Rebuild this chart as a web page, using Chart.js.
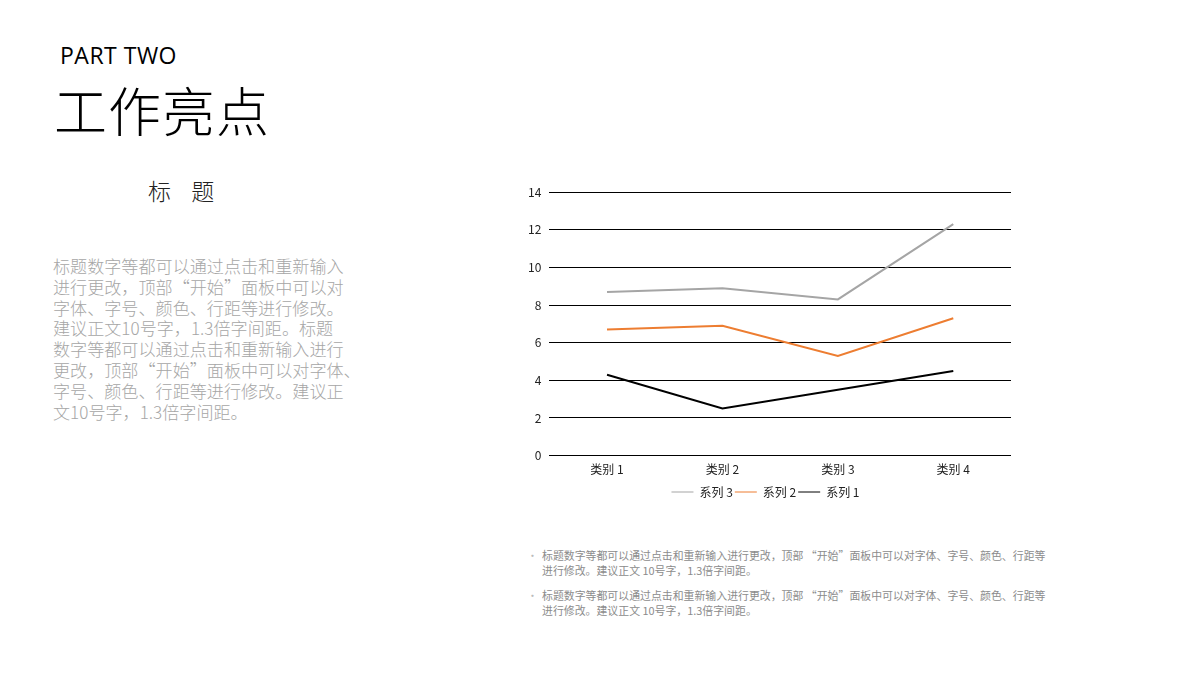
<!DOCTYPE html>
<html>
<head>
<meta charset="utf-8">
<script src="https://cdn.jsdelivr.net/npm/chart.js@4"></script>
<style>
  body { margin: 0; width: 1200px; height: 680px; background: #fff; position: relative; overflow: hidden; font-family: "Noto Sans CJK SC", sans-serif; }
  .part { position: absolute; left: 60px; top: 39px; font: 23px "Open Sans", sans-serif; color: #000; letter-spacing: 0.5px; }
  .title { position: absolute; left: 54px; top: 71px; font: 300 53px "Noto Sans CJK SC"; color: #000; letter-spacing: 1px; }
  .sub { position: absolute; left: 148px; top: 173px; font: 300 23px "Noto Sans CJK SC"; color: #222; }
  .para { position: absolute; left: 53px; top: 256px; font: 300 17.1px/20.8px "Noto Sans CJK SC"; color: #a6a6a6; white-space: nowrap; }
  .notes { position: absolute; left: 527px; top: 548px; font: 10.9px/15px "Noto Sans CJK SC"; color: #8c8c8c; }
  .notes div { position: relative; padding-left: 15px; margin-bottom: 10px; white-space: nowrap; }
  .notes div::before { content: "•"; position: absolute; left: 0; color: #bbb; }
  #wrap { position: absolute; left: 520px; top: 177px; width: 500px; height: 331px; }
</style>
</head>
<body>
<div class="part">PART TWO</div>
<div class="title">工作亮点</div>
<div class="sub">标&nbsp;&nbsp;&nbsp;&nbsp;题</div>
<div class="para">标题数字等都可以通过点击和重新输入<br>进行更改，顶部“开始”面板中可以对<br>字体、字号、颜色、行距等进行修改。<br>建议正文10号字，1.3倍字间距。标题<br>数字等都可以通过点击和重新输入进行<br>更改，顶部“开始”面板中可以对字体、<br>字号、颜色、行距等进行修改。建议正<br>文10号字，1.3倍字间距。</div>
<div class="notes">
  <div>标题数字等都可以通过点击和重新输入进行更改，顶部 “开始”面板中可以对字体、字号、颜色、行距等<br>进行修改。建议正文 10号字，1.3倍字间距。</div>
  <div>标题数字等都可以通过点击和重新输入进行更改，顶部 “开始”面板中可以对字体、字号、颜色、行距等<br>进行修改。建议正文 10号字，1.3倍字间距。</div>
</div>
<div id="wrap"><canvas id="canvas"></canvas></div>
<script>
const categories = ['类别 1', '类别 2', '类别 3', '类别 4']
const series1 = [4.3, 2.5, 3.5, 4.5]
const series2 = [6.7, 6.9, 5.3, 7.3]
const series3 = [8.7, 8.9, 8.3, 12.3]

const data = {
  labels: categories,
  datasets: [
    { label: '系列 3', data: series3, borderColor: '#a5a5a5', backgroundColor: '#a5a5a5' },
    { label: '系列 2', data: series2, borderColor: '#ed7d31', backgroundColor: '#ed7d31' },
    { label: '系列 1', data: series1, borderColor: '#000000', backgroundColor: '#000000' },
  ],
}

const font = { family: '"Noto Sans CJK SC", sans-serif', size: 12 }

const config = {
  type: 'line',
  data: data,
  options: {
    responsive: true,
    maintainAspectRatio: false,
    animation: false,
    elements: {
      line: { borderWidth: 2, tension: 0 },
      point: { radius: 0 },
    },
    layout: { padding: { top: 3, right: 9 } },
    scales: {
      x: {
        offset: true,
        grid: { display: false, drawTicks: false },
        border: { display: false },
        ticks: { color: '#222', font: font, padding: 7 },
      },
      y: {
        min: 0,
        max: 14,
        ticks: { stepSize: 2, color: '#222', font: font, padding: 8 },
        grid: { color: '#000', lineWidth: 1, drawTicks: false },
        border: { display: false },
      },
    },
    plugins: {
      legend: {
        position: 'bottom',
        labels: {
          usePointStyle: true,
          pointStyle: 'line',
          pointStyleWidth: 22,
          boxHeight: 10,
          padding: 2,
          color: '#222',
          font: font,
        },
      },
      tooltip: { enabled: false },
    },
  },
}

const canvas = document.getElementById('canvas')
const chart = new Chart(canvas, config)
</script>
</body>
</html>
